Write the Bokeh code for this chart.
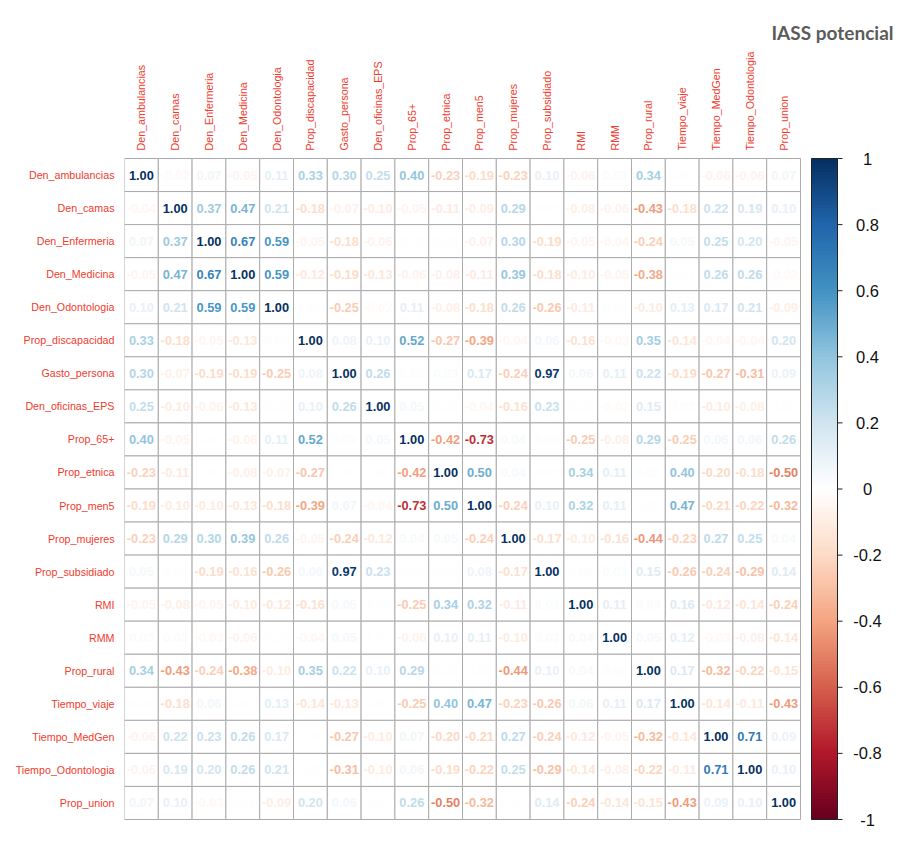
import numpy as np
from bokeh.plotting import figure
from bokeh.models import Range1d, FixedTicker, ColumnDataSource, LabelSet
from bokeh.embed import file_html
from bokeh.resources import INLINE
from bokeh.core.properties import value

# ---------------- data ----------------
variables = ["Den_ambulancias", "Den_camas", "Den_Enfermeria", "Den_Medicina",
             "Den_Odontologia", "Prop_discapacidad", "Gasto_persona",
             "Den_oficinas_EPS", "Prop_65+", "Prop_etnica", "Prop_men5",
             "Prop_mujeres", "Prop_subsidiado", "RMI", "RMM", "Prop_rural",
             "Tiempo_viaje", "Tiempo_MedGen", "Tiempo_Odontologia", "Prop_union"]

r_Den_ambulancias = [1.00, -0.02, 0.07, -0.05, 0.11, 0.33, 0.30, 0.25, 0.40, -0.23, -0.19, -0.23, 0.10, -0.06, 0.03, 0.34, 0.01, -0.06, -0.06, 0.07]
r_Den_camas = [-0.04, 1.00, 0.37, 0.47, 0.21, -0.18, -0.07, -0.10, -0.05, -0.11, -0.09, 0.29, 0.01, -0.08, -0.06, -0.43, -0.18, 0.22, 0.19, 0.10]
r_Den_Enfermeria = [0.07, 0.37, 1.00, 0.67, 0.59, -0.05, -0.18, -0.06, 0.01, 0.01, -0.07, 0.30, -0.19, -0.05, -0.04, -0.24, 0.05, 0.25, 0.20, -0.05]
r_Den_Medicina = [-0.05, 0.47, 0.67, 1.00, 0.59, -0.12, -0.19, -0.13, -0.06, -0.08, -0.11, 0.39, -0.18, -0.10, -0.05, -0.38, 0.01, 0.26, 0.26, -0.02]
r_Den_Odontologia = [0.10, 0.21, 0.59, 0.59, 1.00, 0.02, -0.25, -0.02, 0.11, -0.08, -0.18, 0.26, -0.26, -0.11, 0.02, -0.10, 0.13, 0.17, 0.21, -0.09]
r_Prop_discapacidad = [0.33, -0.18, -0.05, -0.13, 0.02, 1.00, 0.08, 0.10, 0.52, -0.27, -0.39, -0.04, 0.06, -0.16, -0.03, 0.35, -0.14, -0.04, -0.04, 0.20]
r_Gasto_persona = [0.30, -0.07, -0.19, -0.19, -0.25, 0.08, 1.00, 0.26, 0.02, 0.03, 0.17, -0.24, 0.97, 0.06, 0.11, 0.22, -0.19, -0.27, -0.31, 0.09]
r_Den_oficinas_EPS = [0.25, -0.10, -0.06, -0.13, 0.01, 0.10, 0.26, 1.00, 0.05, 0.01, -0.04, -0.16, 0.23, 0.01, -0.02, 0.15, 0.02, -0.10, -0.08, 0.01]
r_Prop_65 = [0.40, -0.05, 0.01, -0.06, 0.11, 0.52, 0.02, 0.05, 1.00, -0.42, -0.73, 0.04, 0.02, -0.25, -0.08, 0.29, -0.25, 0.06, 0.06, 0.26]
r_Prop_etnica = [-0.23, -0.11, 0.01, -0.08, -0.07, -0.27, 0.01, 0.01, -0.42, 1.00, 0.50, 0.04, 0.01, 0.34, 0.11, 0.02, 0.40, -0.20, -0.18, -0.50]
r_Prop_men5 = [-0.19, -0.10, -0.10, -0.13, -0.18, -0.39, 0.07, -0.04, -0.73, 0.50, 1.00, -0.24, 0.10, 0.32, 0.11, 0.01, 0.47, -0.21, -0.22, -0.32]
r_Prop_mujeres = [-0.23, 0.29, 0.30, 0.39, 0.26, -0.05, -0.24, -0.12, 0.04, 0.05, -0.24, 1.00, -0.17, -0.10, -0.16, -0.44, -0.23, 0.27, 0.25, 0.04]
r_Prop_subsidiado = [0.05, 0.01, -0.19, -0.16, -0.26, 0.06, 0.97, 0.23, 0.01, 0.01, 0.08, -0.17, 1.00, 0.02, 0.03, 0.15, -0.26, -0.24, -0.29, 0.14]
r_RMI = [-0.05, -0.08, -0.05, -0.10, -0.12, -0.16, 0.05, 0.01, -0.25, 0.34, 0.32, -0.11, 0.03, 1.00, 0.11, 0.03, 0.16, -0.12, -0.14, -0.24]
r_RMM = [0.03, 0.03, -0.03, -0.06, 0.01, -0.04, 0.05, 0.01, -0.06, 0.10, 0.11, -0.10, 0.03, 0.04, 1.00, 0.05, 0.12, -0.03, -0.08, -0.14]
r_Prop_rural = [0.34, -0.43, -0.24, -0.38, -0.10, 0.35, 0.22, 0.10, 0.29, 0.01, 0.01, -0.44, 0.10, 0.04, 0.02, 1.00, 0.17, -0.32, -0.22, -0.15]
r_Tiempo_viaje = [0.01, -0.18, 0.06, 0.01, 0.13, -0.14, -0.13, 0.01, -0.25, 0.40, 0.47, -0.23, -0.26, 0.06, 0.11, 0.17, 1.00, -0.14, -0.11, -0.43]
r_Tiempo_MedGen = [-0.06, 0.22, 0.23, 0.26, 0.17, 0.01, -0.27, -0.10, 0.07, -0.20, -0.21, 0.27, -0.24, -0.12, -0.05, -0.32, -0.14, 1.00, 0.71, 0.09]
r_Tiempo_Odontologia = [-0.06, 0.19, 0.20, 0.26, 0.21, 0.01, -0.31, -0.10, 0.06, -0.19, -0.22, 0.25, -0.29, -0.14, -0.08, -0.22, -0.11, 0.71, 1.00, 0.10]
r_Prop_union = [0.07, 0.10, -0.03, 0.01, -0.09, 0.20, 0.06, 0.01, 0.26, -0.50, -0.32, 0.01, 0.14, -0.24, -0.14, -0.15, -0.43, 0.09, 0.10, 1.00]

rows = [r_Den_ambulancias, r_Den_camas, r_Den_Enfermeria, r_Den_Medicina,
        r_Den_Odontologia, r_Prop_discapacidad, r_Gasto_persona,
        r_Den_oficinas_EPS, r_Prop_65, r_Prop_etnica, r_Prop_men5,
        r_Prop_mujeres, r_Prop_subsidiado, r_RMI, r_RMM, r_Prop_rural,
        r_Tiempo_viaje, r_Tiempo_MedGen, r_Tiempo_Odontologia, r_Prop_union]

cbar_ticks = [1.0, 0.8, 0.6, 0.4, 0.2, 0.0, -0.2, -0.4, -0.6, -0.8, -1.0]
cbar_tick_labels = ["1", "0.8", "0.6", "0.4", "0.2", "0", "-0.2", "-0.4", "-0.6", "-0.8", "-1"]

title_text = "IASS potencial"

# ---------------- palette (corrplot RdBu ramp, 200 colours) ----------------
anchors = ["#67001F", "#B2182B", "#D6604D", "#F4A582", "#FDDBC7", "#FFFFFF",
           "#D1E5F0", "#92C5DE", "#4393C3", "#2166AC", "#053061"]


def hex2rgb(h):
    h = h.lstrip("#")
    return [int(h[i:i + 2], 16) for i in (0, 2, 4)]


def ramp(cols, n):
    rgb = np.array([hex2rgb(c) for c in cols], dtype=float)
    pos = np.linspace(0, 1, len(cols))
    t = np.linspace(0, 1, n)
    out = []
    for tt in t:
        r = np.interp(tt, pos, rgb[:, 0])
        g = np.interp(tt, pos, rgb[:, 1])
        b = np.interp(tt, pos, rgb[:, 2])
        out.append("#%02x%02x%02x" % (int(round(r)), int(round(g)), int(round(b))))
    return out


palette = ramp(anchors, 200)


def col_for(v):
    idx = int(np.ceil((v + 1) * 100)) - 1
    return palette[min(199, max(0, idx))]


# ---------------- layout constants ----------------
N = len(variables)
CELL_W = 33.8
GRID_H = 661          # pixel height of the 20 rows
PAD = 7               # frame padding above/below the grid (room for bar labels)
LEFT = 124
TOP = 151
BOTTOM = 0
FIG_W = 893
FRAME_W = FIG_W - LEFT
FRAME_H = GRID_H + 2 * PAD
CELL_H = GRID_H / N
x_end = FRAME_W / CELL_W
y_pad = PAD / CELL_H
cb_pad = PAD / (GRID_H / 2)
bar_l = N + 11 / CELL_W
bar_r = N + 37 / CELL_W
tick_r = bar_r + 5 / CELL_W
lab_x = N + 67 / CELL_W  # centre of colour-bar labels

label_red = "#F03C2E"

p = figure(frame_width=FRAME_W, frame_height=FRAME_H,
           x_range=Range1d(0, x_end), y_range=Range1d(-y_pad, N + y_pad),
           output_backend="svg", toolbar_location=None,
           x_axis_location="above",
           min_border_left=LEFT, min_border_top=TOP,
           min_border_right=0, min_border_bottom=BOTTOM)
p.extra_y_ranges = {"cb": Range1d(-1 - cb_pad, 1 + cb_pad)}

# cells
xs, ys, txt, tcol = [], [], [], []
for i, row in enumerate(rows):
    for j, v in enumerate(row):
        xs.append(j + 0.5)
        ys.append(N - i - 0.5)
        txt.append("%.2f" % v)
        tcol.append(col_for(v))
src = ColumnDataSource(dict(x=xs, y=ys, txt=txt, color=tcol))
p.rect(x="x", y="y", width=1, height=1, fill_color="white",
       line_color="#ababab", line_width=1, source=src)
p.text(x="x", y="y", text="txt", text_color="color", text_align="center",
       text_baseline="middle", text_font=value("Liberation Sans"),
       text_font_style="bold", text_font_size="12.8px", source=src)

# colour bar (slices overlap slightly to avoid seams)
nb = len(palette)
step = 2 / nb
cb_bottom = [-1 + step * k for k in range(nb)]
cb_top = [min(1.0, -1 + step * (k + 1.6)) for k in range(nb)]
cb_src = ColumnDataSource(dict(bottom=cb_bottom, top=cb_top, color=palette))
p.quad(left=bar_l, right=bar_r, bottom="bottom", top="top", fill_color="color",
       line_color=None, source=cb_src, y_range_name="cb")
p.quad(left=bar_l, right=bar_r, bottom=min(cbar_ticks), top=max(cbar_ticks),
       fill_color=None, line_color="#222222", line_width=1, y_range_name="cb")
tk_src = ColumnDataSource(dict(y=cbar_ticks, t=cbar_tick_labels,
                               x=[lab_x] * len(cbar_ticks)))
p.segment(x0=bar_r, x1=tick_r, y0="y", y1="y", line_color="#222222",
          line_width=1, source=tk_src, y_range_name="cb")
p.add_layout(LabelSet(x="x", y="y", text="t", source=tk_src, y_range_name="cb",
                      text_align="center", text_baseline="middle",
                      text_font=value("Liberation Sans"),
                      text_font_size="16.5px", text_color="#111111"))

# axes
p.xaxis.ticker = FixedTicker(ticks=[j + 0.5 for j in range(N)])
p.xaxis.major_label_overrides = {j + 0.5: variables[j] for j in range(N)}
p.xaxis.major_label_orientation = "vertical"
p.yaxis.ticker = FixedTicker(ticks=[N - i - 0.5 for i in range(N)])
p.yaxis.major_label_overrides = {N - i - 0.5: variables[i] for i in range(N)}
for ax in (p.xaxis, p.yaxis):
    ax.axis_line_color = None
    ax.major_tick_line_color = None
    ax.minor_tick_line_color = None
    ax.major_tick_out = 0
    ax.major_tick_in = 0
    ax.minor_tick_out = 0
    ax.minor_tick_in = 0
    ax.major_label_text_color = label_red
    ax.major_label_text_font = "Liberation Sans"
    ax.major_label_text_font_size = "10.7px"
p.xaxis.major_label_standoff = 1
p.yaxis.major_label_standoff = 10

p.grid.visible = False
p.outline_line_color = None
p.background_fill_color = "white"
p.border_fill_color = "white"

p.title.text = title_text
p.title.align = "right"
p.title.text_font = "Lato"
p.title.text_font_style = "bold"
p.title.text_font_size = "19px"
p.title.text_color = "#5b5b5b"

open("out.html", "w").write(file_html(p, INLINE))
